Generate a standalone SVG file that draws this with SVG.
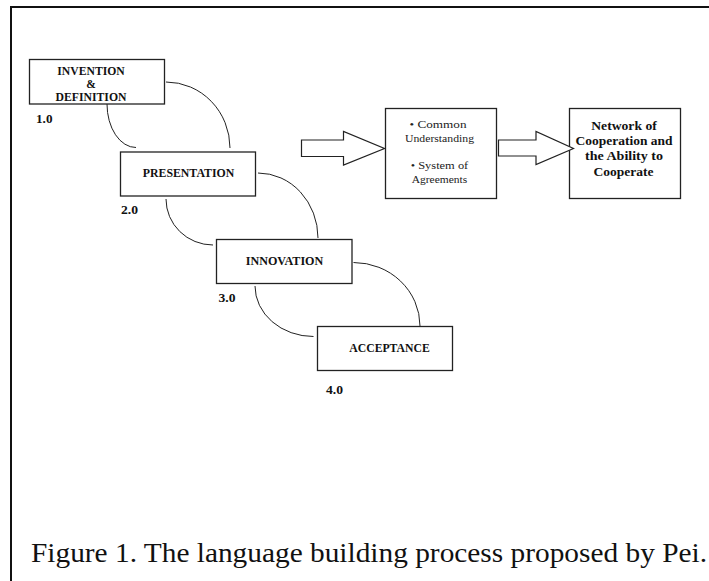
<svg xmlns="http://www.w3.org/2000/svg" width="709" height="581" viewBox="0 0 709 581">
<style>
.box{fill:#fff;stroke:#222;stroke-width:1.3}
.lbl{font-family:"Liberation Serif","Times New Roman",serif;font-weight:bold;font-size:11.5px;fill:#111;text-anchor:middle}
.num{font-family:"Liberation Serif","Times New Roman",serif;font-weight:bold;font-size:12px;fill:#111}
.reg{font-family:"Liberation Serif","Times New Roman",serif;font-size:11px;fill:#222;text-anchor:middle}
.big{font-family:"Liberation Serif","Times New Roman",serif;font-weight:bold;font-size:12.5px;fill:#111;text-anchor:middle}
.arc{fill:none;stroke:#222;stroke-width:1}
.harrow{fill:#fff;stroke:#222;stroke-width:1.2;stroke-linejoin:miter}
</style>
<rect width="709" height="581" fill="#fff"/>
<g id="frame">
<line x1="10" y1="7" x2="709" y2="7" stroke="#111" stroke-width="2"/>
<line x1="11" y1="6" x2="11" y2="581" stroke="#111" stroke-width="2"/>
</g>
<g id="connectors">
<path class="arc" d="M166,82 A64,66 0 0 1 230,148"/>
<path class="arc" d="M107,104 A29,43.5 0 0 0 136,147.5"/>
<path class="arc" d="M258,173 A60,65 0 0 1 318,238"/>
<path class="arc" d="M166,199 A47,46 0 0 0 213,245"/>
<path class="arc" d="M353.5,262.5 A66.5,63.5 0 0 1 420,326"/>
<path class="arc" d="M255,286 A58.5,50.5 0 0 0 313.5,336.5"/>
</g>
<g id="n1">
<rect class="box" x="29.5" y="59.5" width="135" height="44.5"/>
<text class="lbl" x="91" y="75" textLength="67.5" lengthAdjust="spacingAndGlyphs">INVENTION</text>
<text class="lbl" x="91" y="87.5">&amp;</text>
<text class="lbl" x="91" y="100.5" textLength="71" lengthAdjust="spacingAndGlyphs">DEFINITION</text>
<text class="num" x="36" y="122.5" textLength="16.5" lengthAdjust="spacingAndGlyphs">1.0</text>
</g>
<g id="n2">
<rect class="box" x="120.5" y="152" width="135" height="44"/>
<text class="lbl" x="188.5" y="177" textLength="91.5" lengthAdjust="spacingAndGlyphs">PRESENTATION</text>
<text class="num" x="121" y="213.5" textLength="17" lengthAdjust="spacingAndGlyphs">2.0</text>
</g>
<g id="n3">
<rect class="box" x="216.5" y="239.5" width="135.5" height="44"/>
<text class="lbl" x="284.5" y="265" textLength="77.5" lengthAdjust="spacingAndGlyphs">INNOVATION</text>
<text class="num" x="218.5" y="302" textLength="17" lengthAdjust="spacingAndGlyphs">3.0</text>
</g>
<g id="n4">
<rect class="box" x="317.5" y="326.5" width="135" height="44"/>
<text class="lbl" x="389.5" y="352" textLength="80.5" lengthAdjust="spacingAndGlyphs">ACCEPTANCE</text>
<text class="num" x="326" y="393.5" textLength="17" lengthAdjust="spacingAndGlyphs">4.0</text>
</g>
<g id="n5">
<rect class="box" x="385.5" y="108.5" width="111" height="90"/>
<text class="reg" x="438" y="127.5" textLength="57" lengthAdjust="spacingAndGlyphs">• Common</text>
<text class="reg" x="439.5" y="142" textLength="69" lengthAdjust="spacingAndGlyphs">Understanding</text>
<text class="reg" x="439.5" y="169" textLength="57.5" lengthAdjust="spacingAndGlyphs">• System of</text>
<text class="reg" x="439.5" y="182.5" textLength="55.5" lengthAdjust="spacingAndGlyphs">Agreements</text>
</g>
<g id="n6">
<rect class="box" x="569.5" y="108.5" width="111" height="90"/>
<text class="big" x="624" y="130" textLength="65.5" lengthAdjust="spacingAndGlyphs">Network of</text>
<text class="big" x="624" y="145" textLength="97" lengthAdjust="spacingAndGlyphs">Cooperation and</text>
<text class="big" x="624" y="160" textLength="78" lengthAdjust="spacingAndGlyphs">the Ability to</text>
<text class="big" x="623.5" y="175.5" textLength="60" lengthAdjust="spacingAndGlyphs">Cooperate</text>
</g>
<g id="arrows">
<polygon class="harrow" points="301.5,140 343.5,140 343.5,131.5 384.5,148.5 343.5,165 343.5,156.5 301.5,156.5"/>
<polygon class="harrow" points="498.5,140 536,140 536,131.5 573.5,148.5 536,164.5 536,156 498.5,156"/>
</g>
<g id="caption">
<text x="31" y="562" font-family="'Liberation Serif','Times New Roman',serif" font-size="27" fill="#111" textLength="676" lengthAdjust="spacingAndGlyphs">Figure 1.  The language building process proposed by Pei.</text>
</g>
</svg>
